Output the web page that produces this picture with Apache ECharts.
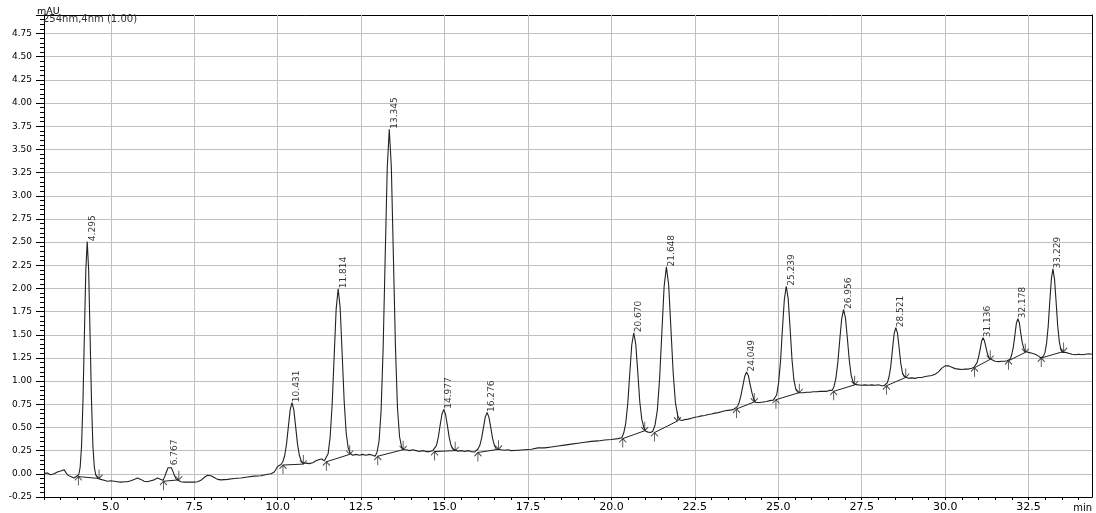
<!DOCTYPE html>
<html><head><meta charset="utf-8">
<script src="https://cdn.jsdelivr.net/npm/echarts@6/dist/echarts.min.js"></script>
<style>html,body{margin:0;padding:0;background:#fff}#c{width:1096px;height:513px}</style>
</head><body><div id="c"></div>
<script>
// ---- data ----
const xMajorTicks = [5.0,7.5,10.0,12.5,15.0,17.5,20.0,22.5,25.0,27.5,30.0,32.5];
const xMinorTicks = [3.0,3.5,4.0,4.5,5.0,5.5,6.0,6.5,7.0,7.5,8.0,8.5,9.0,9.5,10.0,10.5,11.0,11.5,12.0,12.5,13.0,13.5,14.0,14.5,15.0,15.5,16.0,16.5,17.0,17.5,18.0,18.5,19.0,19.5,20.0,20.5,21.0,21.5,22.0,22.5,23.0,23.5,24.0,24.5,25.0,25.5,26.0,26.5,27.0,27.5,28.0,28.5,29.0,29.5,30.0,30.5,31.0,31.5,32.0,32.5,33.0,33.5,34.0];

const peakLabels  = ['4.295','6.767','10.431','11.814','13.345','14.977','16.276','20.670','21.648','24.049','25.239','26.956','28.521','31.136','32.178','33.229'];
const peakTimes   = [4.295,6.767,10.431,11.814,13.345,14.977,16.276,20.670,21.648,24.049,25.239,26.956,28.521,31.136,32.178,33.229];
const peakHeights = [2.505,0.086,0.768,1.996,3.718,0.696,0.661,1.522,2.232,1.098,2.024,1.773,1.576,1.468,1.673,2.211];

// integration baselines: [start time, start value, end time, end value]
const baselines = [
  [4.03,-0.03,4.65,-0.05],[6.58,-0.08,7.04,-0.065],[10.16,0.095,10.77,0.105],[11.46,0.13,12.16,0.21],
  [13.0,0.19,13.76,0.26],[14.70,0.24,15.32,0.25],[16.0,0.23,16.62,0.265],[20.34,0.38,21.0,0.465],
  [21.29,0.445,21.98,0.57],[23.75,0.70,24.28,0.775],[24.93,0.80,25.63,0.876],[26.66,0.89,27.29,0.96],
  [28.24,0.95,28.82,1.04],[30.88,1.145,31.35,1.235],[31.9,1.22,32.4,1.31],[32.88,1.25,33.55,1.32]
];

// detector signal [time (min), mAU]
const signal = [
[3.0,0.0],[3.1,0.01],[3.2,-0.01],[3.3,0.0],[3.4,0.02],[3.5,0.03],[3.6,0.045],[3.65,0.03],[3.7,-0.01],[3.8,-0.03],[3.9,-0.045],
[3.95,-0.04],[4.04,-0.01],[4.083,0.07],[4.125,0.30],[4.168,0.79],[4.21,1.50],[4.253,2.20],[4.295,2.505],[4.338,2.20],[4.38,1.50],[4.423,0.79],[4.465,0.30],[4.508,0.07],[4.55,-0.01],[4.62,-0.05],
[4.7,-0.06],[4.8,-0.07],[4.9,-0.08],[5.0,-0.075],[5.1,-0.08],[5.2,-0.085],[5.3,-0.09],[5.4,-0.085],[5.5,-0.085],[5.6,-0.075],[5.7,-0.06],[5.8,-0.045],[5.9,-0.06],[6.0,-0.08],[6.1,-0.085],[6.2,-0.075],[6.3,-0.065],[6.4,-0.045],[6.5,-0.06],
[6.567,-0.07],[6.617,-0.03],[6.667,0.02],[6.717,0.066],[6.767,0.086],[6.817,0.066],[6.867,0.021],[6.917,-0.026],[6.967,-0.058],[7.02,-0.07],
[7.1,-0.085],[7.2,-0.09],[7.3,-0.09],[7.4,-0.09],[7.5,-0.09],[7.6,-0.085],[7.7,-0.07],[7.8,-0.04],[7.9,-0.015],[8.0,-0.02],[8.1,-0.04],[8.2,-0.06],[8.3,-0.065],[8.5,-0.06],[8.7,-0.05],[8.9,-0.045],[9.1,-0.035],[9.3,-0.025],[9.5,-0.02],[9.7,-0.005],[9.8,0.0],[9.9,0.02],[9.95,0.05],[10.0,0.08],[10.05,0.10],[10.1,0.10],
[10.156,0.13],[10.211,0.195],[10.266,0.32],[10.321,0.507],[10.376,0.69],[10.431,0.768],[10.486,0.69],[10.541,0.507],[10.596,0.32],[10.651,0.2],[10.706,0.14],[10.761,0.115],
[10.85,0.115],[10.95,0.11],[11.05,0.12],[11.15,0.14],[11.25,0.155],[11.32,0.16],[11.4,0.14],
[11.454,0.16],[11.514,0.22],[11.574,0.40],[11.634,0.75],[11.694,1.27],[11.754,1.78],[11.814,1.996],[11.874,1.79],[11.934,1.29],[11.994,0.78],[12.054,0.44],[12.114,0.28],[12.174,0.22],
[12.25,0.2],[12.35,0.21],[12.45,0.2],[12.55,0.21],[12.65,0.2],[12.75,0.21],[12.85,0.2],[12.92,0.19],
[12.976,0.23],[13.038,0.35],[13.099,0.67],[13.161,1.35],[13.222,2.33],[13.284,3.30],[13.345,3.718],[13.407,3.31],[13.468,2.35],[13.53,1.37],[13.591,0.71],[13.653,0.40],[13.714,0.29],[13.776,0.26],
[13.85,0.26],[13.95,0.25],[14.05,0.26],[14.15,0.25],[14.25,0.24],[14.35,0.25],[14.45,0.24],[14.55,0.24],
[14.647,0.25],[14.702,0.265],[14.757,0.305],[14.812,0.39],[14.867,0.52],[14.922,0.64],[14.977,0.696],[15.032,0.64],[15.087,0.52],[15.142,0.39],[15.197,0.305],[15.252,0.265],[15.307,0.25],
[15.4,0.245],[15.5,0.25],[15.6,0.24],[15.7,0.25],[15.8,0.24],[15.9,0.235],
[15.946,0.245],[16.001,0.268],[16.056,0.305],[16.111,0.383],[16.166,0.499],[16.221,0.612],[16.276,0.661],[16.331,0.612],[16.386,0.499],[16.441,0.383],[16.496,0.305],[16.551,0.268],[16.606,0.255],
[16.7,0.26],[16.8,0.255],[16.9,0.26],[17.0,0.25],[17.2,0.255],[17.4,0.26],[17.6,0.265],[17.8,0.28],[18.0,0.28],[18.2,0.29],[18.4,0.3],[18.6,0.31],[18.8,0.32],[19.0,0.33],[19.2,0.34],[19.4,0.35],[19.6,0.355],[19.8,0.365],[20.0,0.37],[20.2,0.38],
[20.31,0.39],[20.37,0.44],[20.43,0.545],[20.49,0.755],[20.55,1.08],[20.61,1.39],[20.67,1.522],[20.73,1.40],[20.79,1.10],[20.85,0.78],[20.91,0.59],[20.97,0.50],[21.03,0.46],[21.1,0.45],[21.17,0.445],
[21.243,0.46],[21.31,0.53],[21.378,0.69],[21.445,1.03],[21.513,1.53],[21.58,2.02],[21.648,2.232],[21.716,2.04],[21.783,1.57],[21.851,1.09],[21.918,0.77],[21.986,0.63],[22.053,0.58],
[22.12,0.575],[22.2,0.585],[22.3,0.59],[22.4,0.6],[22.5,0.61],[22.6,0.615],[22.7,0.625],[22.8,0.63],[22.9,0.64],[23.0,0.645],[23.1,0.655],[23.2,0.66],[23.3,0.67],[23.4,0.68],[23.5,0.685],[23.6,0.69],[23.68,0.7],
[23.719,0.705],[23.774,0.725],[23.829,0.77],[23.884,0.85],[23.939,0.95],[23.994,1.05],[24.049,1.098],[24.104,1.06],[24.159,0.96],[24.214,0.87],[24.269,0.80],[24.324,0.77],[24.379,0.765],
[24.45,0.77],[24.55,0.775],[24.65,0.78],[24.75,0.79],[24.85,0.795],
[24.894,0.81],[24.952,0.85],[25.009,0.98],[25.067,1.21],[25.124,1.56],[25.182,1.88],[25.239,2.024],[25.297,1.89],[25.354,1.57],[25.412,1.23],[25.469,1.01],[25.527,0.91],[25.584,0.88],
[25.65,0.875],[25.75,0.875],[25.85,0.88],[25.95,0.88],[26.05,0.885],[26.15,0.885],[26.25,0.89],[26.35,0.89],[26.45,0.89],[26.55,0.9],
[26.611,0.9],[26.669,0.94],[26.726,1.03],[26.784,1.2],[26.841,1.44],[26.899,1.67],[26.956,1.773],[27.014,1.68],[27.071,1.46],[27.129,1.22],[27.186,1.06],[27.244,0.99],[27.301,0.965],
[27.4,0.96],[27.5,0.955],[27.6,0.96],[27.7,0.955],[27.8,0.96],[27.9,0.955],[28.0,0.96],[28.1,0.95],[28.17,0.95],
[28.221,0.955],[28.271,0.985],[28.321,1.05],[28.371,1.16],[28.421,1.34],[28.471,1.51],[28.521,1.576],[28.571,1.52],[28.621,1.36],[28.671,1.19],[28.721,1.09],[28.771,1.05],[28.821,1.04],
[28.9,1.03],[29.0,1.035],[29.1,1.03],[29.2,1.04],[29.3,1.04],[29.4,1.05],[29.5,1.055],[29.6,1.06],[29.7,1.075],[29.8,1.1],[29.9,1.14],[30.0,1.165],[30.1,1.165],[30.2,1.15],[30.3,1.135],[30.4,1.13],[30.5,1.125],[30.6,1.13],[30.7,1.13],[30.8,1.14],
[30.866,1.15],[30.911,1.165],[30.956,1.2],[31.001,1.26],[31.046,1.34],[31.091,1.43],[31.136,1.468],[31.181,1.43],[31.226,1.36],[31.271,1.29],[31.316,1.25],[31.361,1.235],[31.406,1.23],
[31.5,1.215],[31.6,1.21],[31.7,1.215],[31.8,1.215],[31.86,1.22],
[31.908,1.225],[31.953,1.24],[31.998,1.29],[32.043,1.37],[32.088,1.49],[32.133,1.62],[32.178,1.673],[32.223,1.63],[32.268,1.51],[32.313,1.41],[32.358,1.35],[32.403,1.32],[32.448,1.31],
[32.5,1.31],[32.6,1.3],[32.7,1.29],[32.8,1.27],[32.87,1.25],
[32.944,1.27],[32.992,1.31],[33.039,1.41],[33.087,1.59],[33.134,1.85],[33.182,2.1],[33.229,2.211],[33.277,2.1],[33.324,1.86],[33.372,1.6],[33.419,1.43],[33.467,1.34],[33.514,1.31],
[33.6,1.31],[33.7,1.3],[33.8,1.29],[33.9,1.285],[34.0,1.29],[34.1,1.285],[34.2,1.29],[34.3,1.295],[34.4,1.29]
];

// ---- build the chart ----
const FONT = 'DejaVu Sans';
const baselineData = [];
baselines.forEach(b => { baselineData.push([b[0], b[1]], [b[2], b[3]], [b[2], '-']); });
const startPts = baselines.map(b => [b[0], b[1]]);
const endPts = baselines.map(b => [b[2], b[3]]);
const peakPts = peakTimes.map((t, i) => [t, peakHeights[i]]);

const chart = echarts.init(document.getElementById('c'), null, {renderer: 'canvas'});
chart.setOption({
  animation: false,
  backgroundColor: '#fff',
  title: {
    text: '254nm,4nm (1.00)', left: 43, top: 14, padding: 0,
    textStyle: {fontSize: 10, fontWeight: 'normal', color: '#333', fontFamily: FONT}
  },
  grid: {left: 44, right: 4, top: 15, bottom: 16, containLabel: false},
  xAxis: [{
    type: 'value', min: 3.0, max: 34.4,
    name: 'min', nameLocation: 'end', nameGap: 0,
    nameTextStyle: {align: 'right', verticalAlign: 'top', padding: [6, 0, 0, 0], fontSize: 10, color: '#000', fontFamily: FONT},
    axisLine: {show: true, onZero: false, lineStyle: {color: '#000', width: 1}},
    axisTick: {show: true, customValues: xMinorTicks, length: 3, lineStyle: {color: '#000'}},
    axisLabel: {customValues: xMajorTicks, formatter: v => v.toFixed(1), fontSize: 11, color: '#000', fontFamily: FONT, margin: 5},
    splitLine: {show: false}
  }, {
    type: 'value', position: 'top', min: 3.0, max: 34.4,
    axisLine: {show: true, onZero: false, lineStyle: {color: '#000', width: 1}},
    axisTick: {show: false}, axisLabel: {show: false}, splitLine: {show: false}
  }],
  yAxis: [{
    type: 'value', min: -0.25, max: 4.95, interval: 0.25,
    name: 'mAU', nameLocation: 'end', nameGap: -2,
    nameTextStyle: {align: 'left', padding: [0, 0, 0, -7], fontSize: 9.5, color: '#000', fontFamily: FONT},
    axisLine: {show: true, onZero: false, lineStyle: {color: '#000', width: 1}},
    axisTick: {show: true, length: 8, lineStyle: {color: '#000'}},
    minorTick: {show: true, splitNumber: 5, length: 4, lineStyle: {color: '#000'}},
    axisLabel: {formatter: v => v.toFixed(2), showMaxLabel: false, fontSize: 9, color: '#000', fontFamily: FONT, margin: 12},
    splitLine: {show: true, showMaxLine: false, lineStyle: {color: '#c0c0c0', width: 1}}
  }, {
    type: 'value', position: 'right', min: -0.25, max: 4.95,
    axisLine: {show: true, onZero: false, lineStyle: {color: '#000', width: 1}},
    axisTick: {show: false}, axisLabel: {show: false}, splitLine: {show: false}
  }],
  series: [
    {
      name: 'signal', type: 'line', data: signal, showSymbol: false, symbol: 'none',
      lineStyle: {color: '#222', width: 1.1}, z: 3, silent: true,
      markLine: {
        silent: true, symbol: 'none', z: 1, label: {show: false},
        lineStyle: {color: '#c0c0c0', width: 1, type: 'solid'},
        data: xMajorTicks.map(v => ({xAxis: v}))
      }
    },
    {
      name: 'baselines', type: 'line', data: baselineData, showSymbol: false, symbol: 'none',
      connectNulls: false, lineStyle: {color: '#222', width: 1}, z: 3, silent: true
    },
    {
      name: 'start', type: 'scatter', data: startPts,
      symbol: 'path://M5 0L5 12M1 5L5 0L9 5', symbolSize: [7, 9], symbolOffset: [0, 4.5],
      itemStyle: {color: 'none', borderColor: '#222', borderWidth: 1}, z: 4, silent: true
    },
    {
      name: 'end', type: 'scatter', data: endPts,
      symbol: 'path://M5 12L5 0M1 7L5 12L9 7', symbolSize: [7, 9], symbolOffset: [0, -4.5],
      itemStyle: {color: 'none', borderColor: '#222', borderWidth: 1}, z: 4, silent: true
    },
    {
      name: 'peaks', type: 'scatter', data: peakPts, symbolSize: 1,
      itemStyle: {color: 'rgba(0,0,0,0)'}, z: 5, silent: true,
      label: {
        show: true, formatter: p => peakLabels[p.dataIndex], position: 'top', distance: 1,
        rotate: 90, align: 'left', verticalAlign: 'middle', offset: [-1, 5],
        fontSize: 9, color: '#000', fontFamily: FONT
      }
    }
  ]
});
</script>
</body></html>
